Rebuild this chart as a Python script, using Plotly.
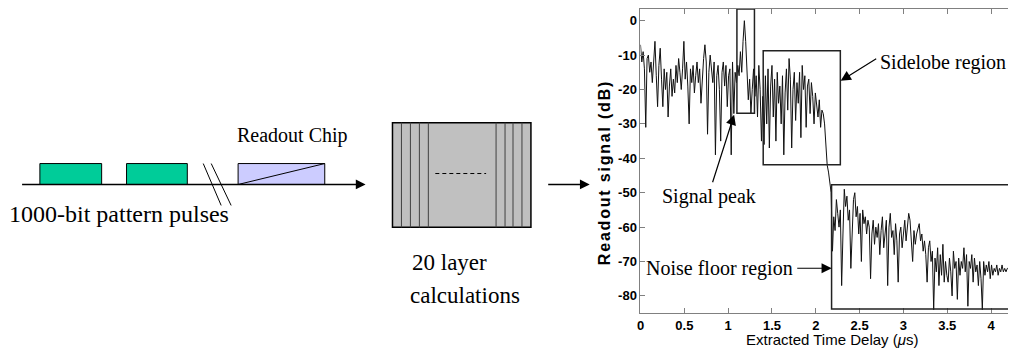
import plotly.graph_objects as go

# the page body has an 8px margin, so the figure is sized to the remaining window
OFF = 8
W, H = 1016 - OFF, 353 - OFF

# ---------------- data ----------------
sample_step_us = 0.015
readout_db = [
    -7, -12, -9, -14, -31, -11, -10, -15, -12, -18, -12, -6, -16, -25, -13, -8, -17, -25, -14, -20,
    -15, -28, -19, -14, -22, -17, -21, -13, -18, -11, -15, -20, -14, -6, -17, -12, -19, -30, -14, -18,
    -13, -21, -16, -12, -18, -14, -24, -15, -11, -7, -12, -33, -15, -10, -14, -18, -12, -39, -16, -13,
    -20, -35, -15, -12, -19, -13, -25, -16, -14, -39, -12, -27, -15, -18, -13, -16, -9, -15, -6, 0,
    -6, -13, -23, -17, -27, -20, -14, -22, -16, -28, -13, -20, -35, -22, -36, -16, -30, -14, -37, -19,
    -13, -28, -17, -35, -15, -24, -19, -30, -16, -39, -21, -14, -26, -11, -17, -37, -20, -15, -29, -18,
    -24, -15, -34, -13, -20, -16, -31, -19, -17, -27, -18, -22, -30, -21, -24, -28, -23, -31, -26, -27,
    -30, -35, -42, -44, -47, -50, -67, -57, -61, -52, -56, -60, -55, -77, -62, -49, -54, -51, -58, -55,
    -72, -58, -52, -50, -57, -54, -62, -56, -70, -55, -59, -57, -62, -58, -60, -75, -62, -58, -65, -60,
    -63, -59, -68, -61, -57, -66, -62, -58, -77, -60, -56, -63, -61, -68, -59, -64, -76, -62, -60, -66,
    -62, -58, -64, -60, -56, -58, -63, -70, -61, -65, -62, -60, -59, -64, -62, -67, -64, -68, -76, -66,
    -64, -70, -67, -84, -69, -73, -66, -77, -68, -74, -65, -76, -70, -74, -76, -69, -73, -80, -67, -72,
    -70, -81, -69, -74, -70, -72, -66, -73, -68, -83, -70, -72, -68, -76, -69, -73, -71, -77, -70, -75,
    -84, -70, -74, -71, -73, -70, -75, -71, -74, -72, -73, -71, -74, -72, -73, -71, -73, -72, -73, -72,
    -72, -73, -72, -72, -72, -73,
]
time_us = [i * sample_step_us for i in range(len(readout_db))]

x_tick_vals = [0, 0.5, 1, 1.5, 2, 2.5, 3, 3.5, 4]
x_tick_text = ["0", "0.5", "1", "1.5", "2", "2.5", "3", "3.5", "4"]
y_tick_vals = [0, -10, -20, -30, -40, -50, -60, -70, -80]
y_tick_text = ["0", "-10", "-20", "-30", "-40", "-50", "-60", "-70", "-80"]

# regions marked on the readout (time range, dB range)
peak_region = ([1.10, 1.30], [-26.9, 3.4])
sidelobe_region = ([1.40, 2.28], [-41.9, -8.7])
noise_region = ([2.18, 4.22], [-83.8, -47.7])

# ---------------- figure ----------------
fig = go.Figure()
fig.add_trace(go.Scatter(x=time_us, y=readout_db, mode="lines",
                         line=dict(color="#111111", width=1), hoverinfo="skip"))

def px(x):
    return (x - OFF) / W

def py(y):
    return 1 - (y - OFF) / H

shapes = []
annotations = []

for (xr, yr) in (peak_region, sidelobe_region, noise_region):
    shapes.append(dict(type="rect", xref="x", yref="y", x0=xr[0], x1=xr[1], y0=yr[0], y1=yr[1],
                       line=dict(color="#222222", width=1.5), fillcolor="rgba(0,0,0,0)"))

def prect(x0, y0, x1, y1, fill, lc="#000000", lw=1):
    shapes.append(dict(type="rect", xref="paper", yref="paper", x0=px(x0), x1=px(x1),
                       y0=py(y1), y1=py(y0), fillcolor=fill, line=dict(color=lc, width=lw),
                       layer="above"))

def pline(x0, y0, x1, y1, lc="#000000", lw=1, dash="solid"):
    shapes.append(dict(type="line", xref="paper", yref="paper", x0=px(x0), x1=px(x1),
                       y0=py(y0), y1=py(y1), line=dict(color=lc, width=lw, dash=dash),
                       layer="above"))

# pulse train diagram
prect(36, 163, 98, 184, "#00CC99")
prect(123, 163, 184, 184, "#00CC99")
prect(235, 163, 322, 184, "#CCCCFF")
pline(235, 184, 322, 163)
pline(200, 163, 218, 205)
pline(208, 163, 228, 205)

# layer calculation block
prect(390, 122, 529, 227, "#C0C0C0", "#000000", 1.5)
for xs in (399, 408, 417, 426, 494, 503, 511, 520):
    pline(xs, 122, xs, 227, "#404040", 1)
pline(433, 173, 484, 173, "#000000", 1, "4px,3px")

def arrow(hx, hy, tx, ty, w=1.3, size=1.4):
    annotations.append(dict(xref="paper", yref="paper", x=px(hx), y=py(hy), text="",
                            showarrow=True, axref="pixel", ayref="pixel",
                            ax=tx - hx, ay=ty - hy, arrowhead=2, arrowsize=size,
                            arrowwidth=w, arrowcolor="#000000", standoff=0))

arrow(363, 184, 18, 184, 1.5, 1.3)
arrow(588, 184, 545, 184, 1.5, 1.3)
arrow(733, 114, 711, 183, 1.2, 1.7)
arrow(840, 80, 877, 57, 1.2, 1.7)
arrow(831, 268, 795, 268, 1.2, 1.7)

serif = "Times New Roman, Liberation Serif, serif"

def label(text, x, y, size, xanchor="center", fam=serif, bold=False, angle=0):
    annotations.append(dict(xref="paper", yref="paper", x=px(x), y=py(y), text=text,
                            showarrow=False, xanchor=xanchor, yanchor="middle", textangle=angle,
                            font=dict(family=fam, size=size, color="#000000",
                                      weight="bold" if bold else "normal")))

label("Readout Chip", 290, 135, 20)
label("1000-bit pattern pulses", 115, 214, 24)
label("20 layer", 408, 262, 23, "left")
label("calculations", 406, 295, 23, "left")
label("Signal peak", 708, 196, 20)
label("Sidelobe region", 877, 62, 20, "left")
label("Noise floor region", 643, 268, 20, "left")

sans = "Arial, Liberation Sans, sans-serif"
label('<span style="letter-spacing:1.8px">Readout signal (dB)</span>', 603, 172, 16,
      fam=sans, bold=True, angle=-90)
label("Extracted Time Delay (<i>\u03bc</i>s)", 831, 339, 15, fam=sans)

fig.update_layout(
    width=W, height=H,
    margin=dict(l=0, r=0, t=0, b=0),
    paper_bgcolor="white", plot_bgcolor="white",
    showlegend=False,
    shapes=shapes,
    annotations=annotations,
    xaxis=dict(domain=[px(639), 1], range=[0, (1016 - 639) / 88.0], tickvals=x_tick_vals,
               ticktext=x_tick_text, ticks="inside", ticklen=5, tickcolor="#808080",
               showline=True, linecolor="#808080", linewidth=1, mirror="ticks",
               showgrid=False, zeroline=False,
               tickfont=dict(family=sans, size=13, color="#000000", weight="bold")),
    yaxis=dict(domain=[py(313), py(8)], range=[-85, 3.4], tickvals=y_tick_vals,
               ticktext=y_tick_text, ticks="inside", ticklen=5, tickcolor="#808080",
               showline=True, linecolor="#808080", linewidth=1, mirror=False,
               showgrid=False, zeroline=False,
               tickfont=dict(family=sans, size=13, color="#000000", weight="bold")),
)

fig.write_html("out.html")
